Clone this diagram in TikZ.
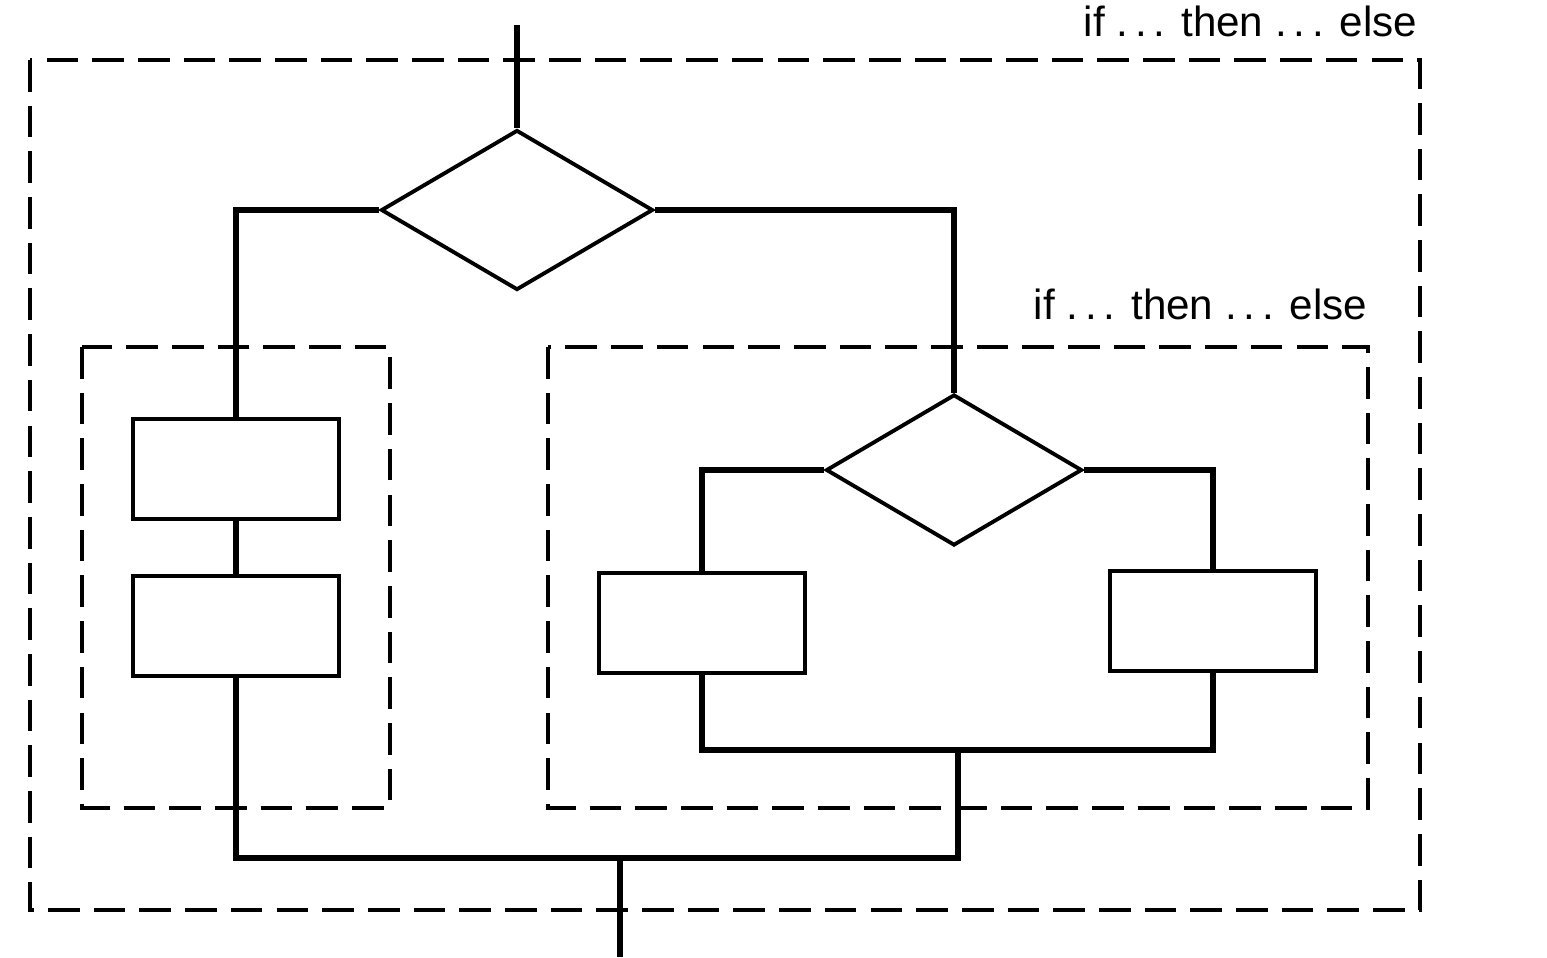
\documentclass[tikz,border=0pt]{standalone}
\usepackage{fontspec}
\setmainfont{Liberation Sans}
\usetikzlibrary{shapes.geometric}

\tikzset{
	flow/.style={line width=1.6pt},
	test/.style={diamond, draw, line width=1.1pt, inner sep=0pt},
	action/.style={rectangle, draw, line width=1.2pt, inner sep=0pt,
		minimum width=20.6mm, minimum height=10mm},
	blockbox/.style={line width=0.9pt, dash pattern=on 9pt off 4pt},
	blocklabel/.style={font=\fontsize{12}{14}\selectfont, inner sep=0pt}
}
\newcommand{\ifthenelse}{if .\,.\,. then .\,.\,. else}

\begin{document}
\begin{tikzpicture}[x=0.1mm, y=-0.1mm]
	
	\useasboundingbox (0,0) rectangle (1547,957);
	
	% dashed blocks
	\draw[blockbox] (30,60) rectangle (1420,910);
	\draw[blockbox] (82,347) rectangle (390,808);
	\draw[blockbox] (548,347) rectangle (1368,808);
	
	\node[blocklabel, anchor=south east] (outerlbl) at (1418,38) {\ifthenelse};
	\node[blocklabel, anchor=south east] (innerlbl) at (1368,321) {\ifthenelse};
	
	% outer if
	\node[test, minimum width=27.2mm, minimum height=16mm] (d1) at (517,210) {};
	\node[action] (rA) at (236,469) {};
	\node[action] (rB) at (236,626) {};
	
	% inner if
	\node[test, minimum width=25.6mm, minimum height=15.1mm] (d2) at (954,470) {};
	\node[action] (rC) at (702,623) {};
	\node[action] (rD) at (1213,621) {};
	
	\coordinate (in) at (517,25);
	\coordinate (j2) at (958,750);
	\coordinate (j1) at (958,858);
	\coordinate (out) at (620,957);
	
	\draw[flow] (in) -- (d1.north);
	\draw[flow] (d1.west) -| (rA.north);
	\draw[flow] (rA.south) -- (rB.north);
	\draw[flow] (d1.east) -| (d2.north);
	
	\draw[flow] (d2.west) -| (rC.north);
	\draw[flow] (d2.east) -| (rD.north);
	\draw[flow] (rC.south) |- (j2) -| (rD.south);
	
	\draw[flow] (rB.south) |- (j1) -- (j2);
	\draw[flow] (out |- j1) -- (out);
	
\end{tikzpicture}
\end{document}
